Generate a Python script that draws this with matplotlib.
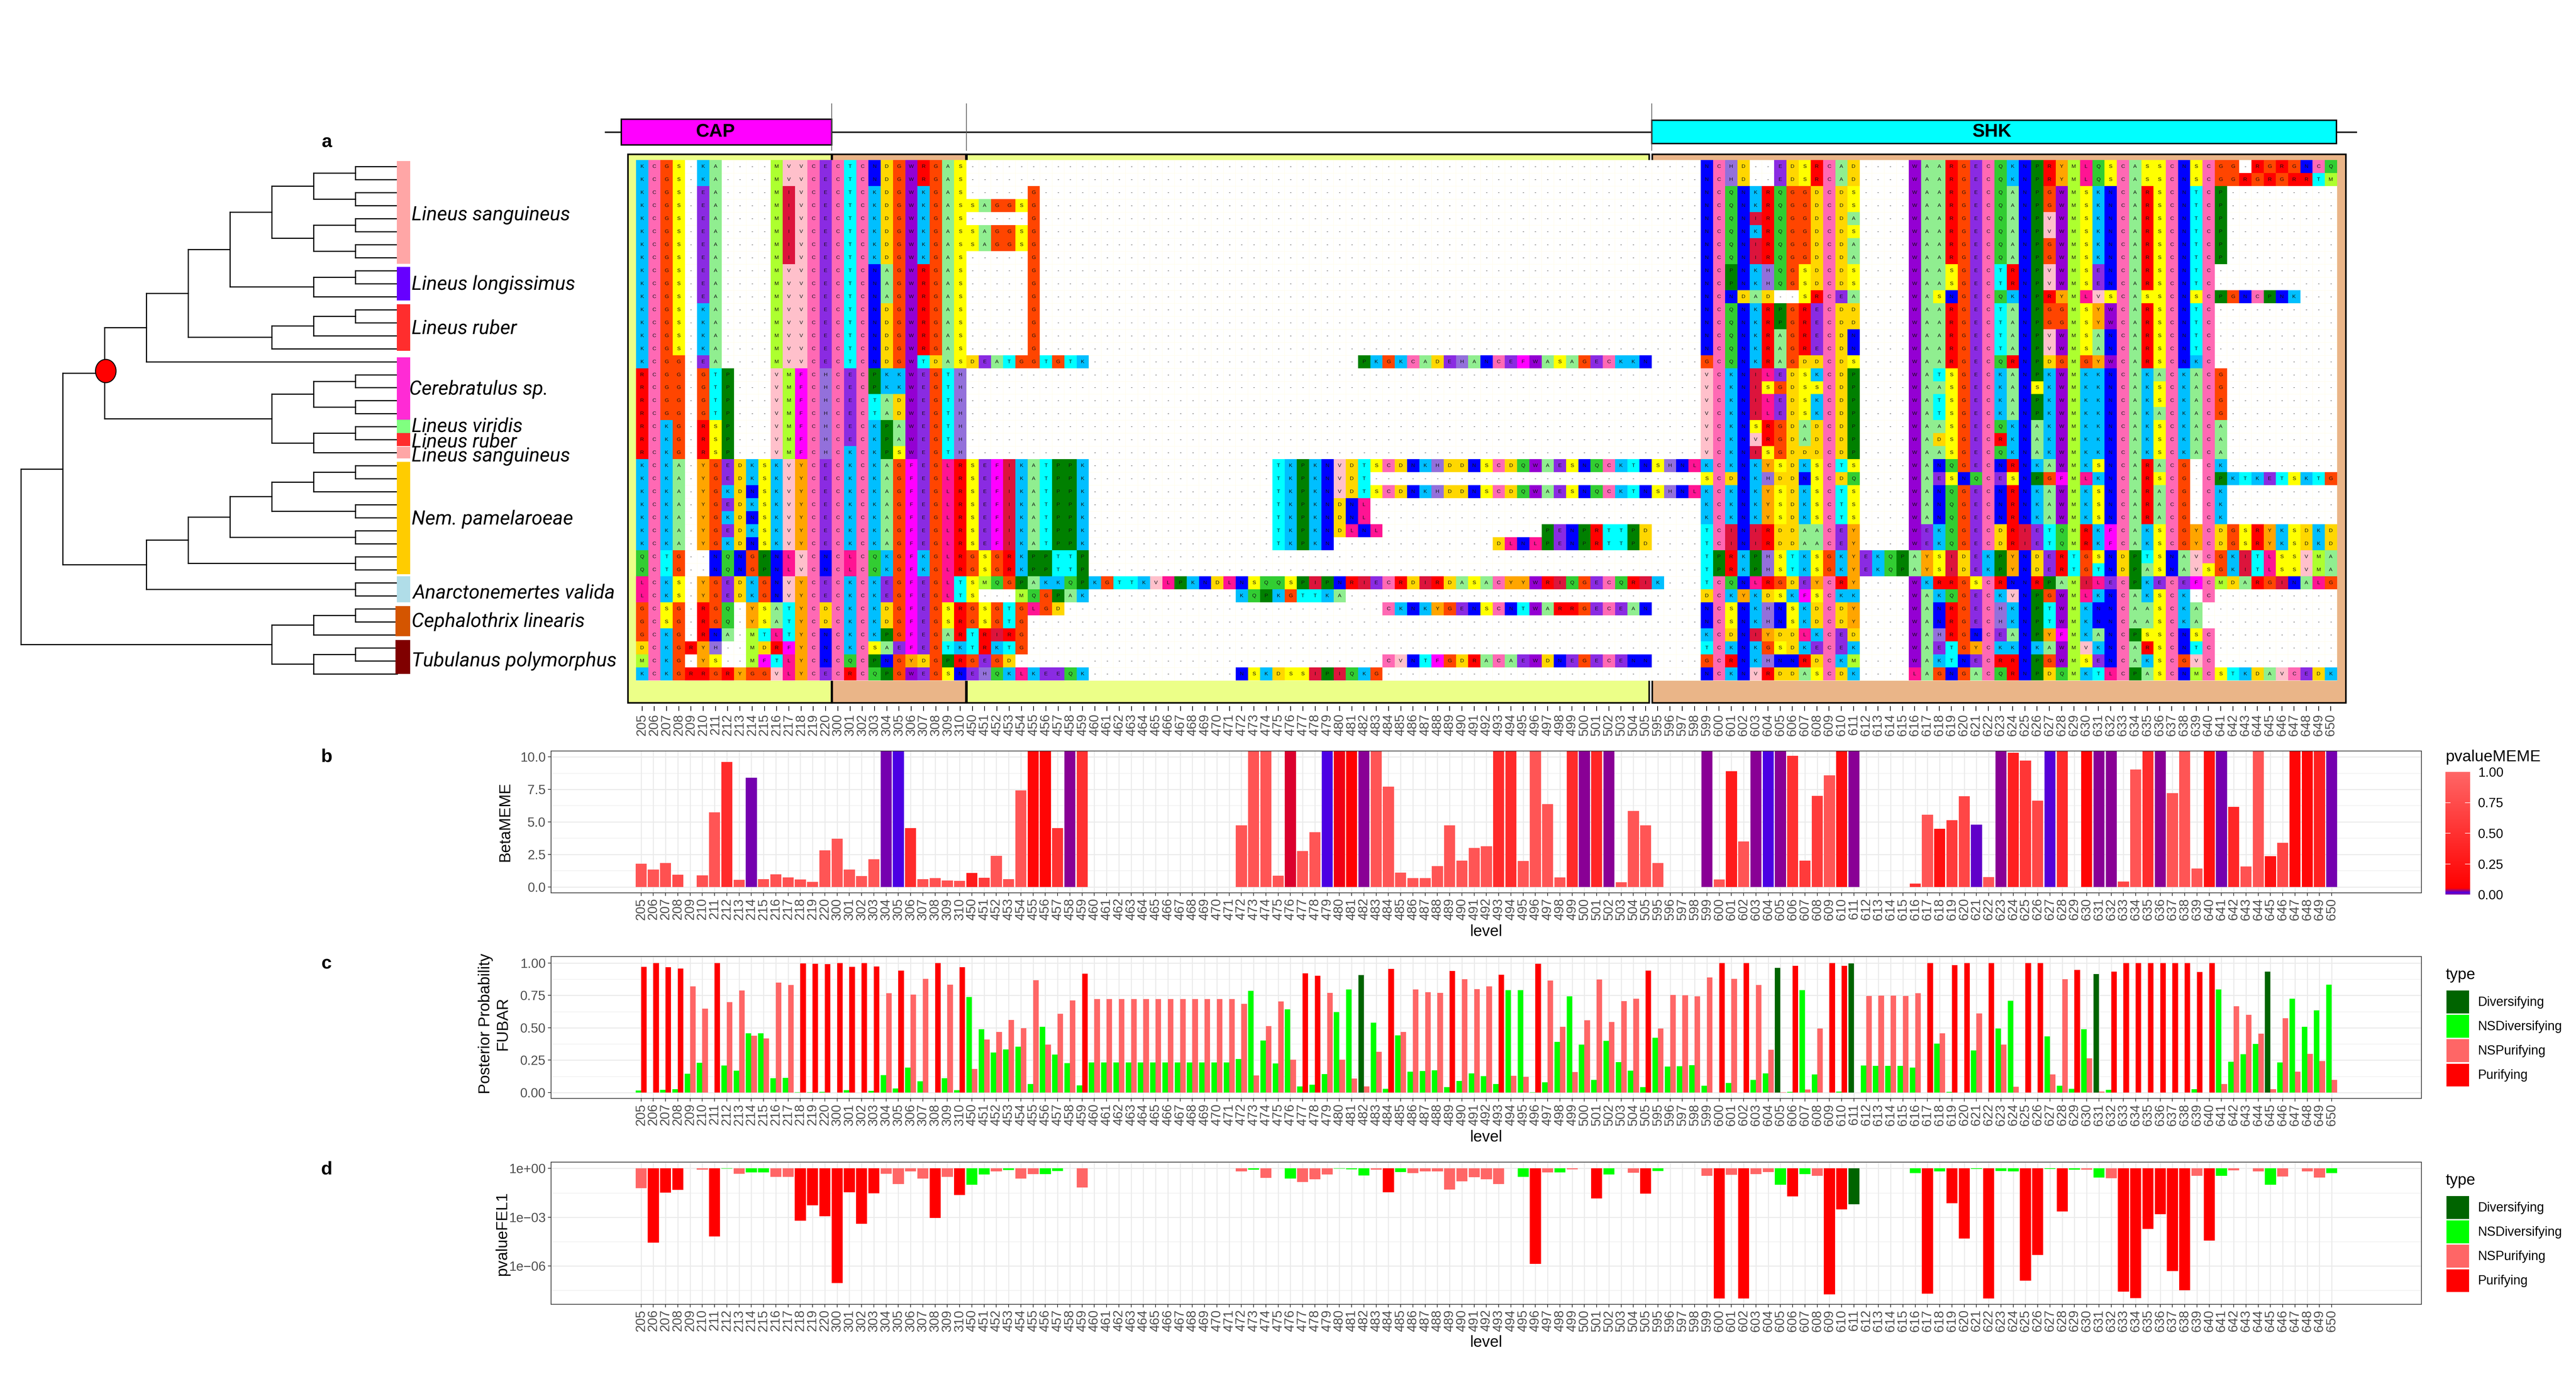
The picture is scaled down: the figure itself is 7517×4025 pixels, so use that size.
import matplotlib
matplotlib.use("Agg")
import matplotlib.pyplot as plt
from matplotlib.patches import Rectangle, Ellipse, Patch
from matplotlib.colors import LinearSegmentedColormap, to_rgba, Normalize
from matplotlib.cm import ScalarMappable
import numpy as np

W, H = 7517, 4025
plt.rcParams['font.family'] = ['Liberation Sans', 'DejaVu Sans']

# ---------------- sites
sites = list(range(205, 221)) + list(range(300, 311)) + list(range(450, 506)) + list(range(595, 651))

# ---------------- alignment, one block per site range
head = [
 "KCGS-KA----MVVCECTCNDGWRGAS","KCGS-KA----MVVCECTCNDGWRGAS","KCGS-EA----MIVCECTCKDGWKGAS","KCGS-EA----MIVCECTCKDGWKGAS",
 "KCGS-EA----MIVCECTCKDGWKGAS","KCGS-EA----MIVCECTCKDGWKGAS","KCGS-EA----MIVCECTCKDGWKGAS","KCGS-EA----MIVCECTCKDGWKGAS",
 "KCGS-EA----MVVCECTCNAGWRGAS","KCGS-EA----MVVCECTCNAGWRGAS","KCGS-EA----MVVCECTCNAGWRGAS","KCGS-KA----MVVCECTCNDGWRGAS",
 "KCGS-KA----MVVCECTCNDGWRGAS","KCGS-KA----MVVCECTCNDGWRGAS","KCGS-KA----MVVCECTCNDGWRGAS","KCGG-EA----MVVCECTCNDGWTDAS",
 "RCGG-GTP---VMFCHCECPKKWEGTH","RCGG-GTP---VMFCHCECPKKWEGTH","RCGG-GTP---VMFCHCECTADWEGTH","RCGG-GTP---VMFCHCECTADWEGTH",
 "RCKG-RSP---VMFCHCECKPAWEGTH","RCKG-RSP---VMFCHCECKPAWEGTH","RCKG-RSP---VMFCHCKCKPSWEGTH","KCKA-YGEDKSKVYCECKCKAGFEGLR",
 "KCKA-YGEDKSKVYCECKCKAGFEGLR","KCKA-YGKDNSKVYCECKCKAGFEGLR","KCKA-YGEDKSKVYCECKCKAGFEGLR","KCKA-YGKDNSKVYCECKCKAGFEGLR",
 "KCKA-YGEDKSKVYCECKCKAGFEGLR","KCKA-YGKDNSKVYCECKCKAGFEGLR","QCTG--NQNGPNLVCNCLCQKGFKGLR","QCTG--NQNGPNLVCNCLCQKGFKGLR",
 "LCKS-YGEDKGNVYCECKCKEGFEGLT","LCKS-YGEDKGNVYCECKCKEGFEGLT","GCSG-RGQ-YSATYCDCKCKDGFEGSR","GCSG-RGQ-YSATYCDCKCKDGFEGSR",
 "GCKG-RNA-MTLTYCNCKCKPGFEGAR","DCKGRYH--MDRFYCNCKCSAEFEGTK","MCKG-YS--MFTLYCNCQCPNGYDGPR","KCKGRRGRYGGVLYCECRCQPGWEGSN",
]
mid = [
 "","","-----G","SAGGSG","-----G","SAGGSG","SAGGSG","-----G","-----G","-----G","-----G","-----G","-----G","-----G","-----G",
 "DEATGGTGTK----------------------PKGKCADEHANCEFWASAGECKKN",
 "","","","","","","",
 "SEFIKATPPK---------------TKPKNVDTSCDNKHDDNSCDQWAESNQCKTN",
 "SEFIKATPPK---------------TKPKNVDT",
 "SEFIKATPPK---------------TKPKNVDTSCDNKHDDNSCDQWAESNQCKTN",
 "SEFIKATPPK---------------TKPKNDNL",
 "SEFIKATPPK---------------TKPKNDNL",
 "SEFIKATPPK---------------TKPKNDLNL-------------PENPRTTPD",
 "SEFIKATPPK---------------TKPKN-------------DLNLPENPRTTPD",
 "GSGRKPPTTP","GSGRKPPTTP",
 "SMQGPAKKQPKGTTKVLPKNDLNSQQSPIPNRIECRDIRDASACYYWRIQGECQRI",
 "S---MQGPAK------------KQPKGTTKA",
 "GSGTGLGD--------------------------CKNKYGENSCNTWARRGECEAN",
 "GSGTG",
 "TRIRG","TRKTG",
 "GEGD------------------------------CVNTFGDRACAEWDNEGECENN",
 "EHQKLKEEQK------------NSKDSSIPIQKG",
]
tail = [
 "----NCHD--EDSRCAD----WAARGECQKNPRYMLQSCASSCNSCGG-RGRGNCQ",
 "----NCHD--EDSRCAD----WAARGECQKNPRYMLQSCASSCNSCGGRGRGRRTM",
 "----NCQNKRQGGDCDS----WAARGECQANPGWMSKNCARSCNTCP",
 "----NCQNKRQGGDCDS----WAARGECQANPGWMSKNCARSCNTCP",
 "----NCQNIRQGGDCDA----WAARGECQANPVWMSKNCARSCNTCP",
 "----NCQNKRQGGDCDS----WAARGECQANPVWMSKNCARSCNTCP",
 "----NCQNIRQGGDCDA----WAARGECQANPGWMSKNCARSCNTCP",
 "----NCQNIRQGGDCDA----WAARGECQANPGWMSKNCARSCNTCP",
 "----NCPNKHQGSDCDS----WAASGECTRNPVWMSENCARSCNTC",
 "----NCPNKHQGSDCDS----WAASGECTRNPVWMSENCARSCNTC",
 "----NCNDAD--SRCEA----WASNGECQKNPRYMLVSCASSCNSCPGNCPNK",
 "----NCQNKRPGRECDD----WAARGECTANPGGMSYWCARSCNTC",
 "----NCQNKRPGRECDD----WAARGECTANPGGMSYWCARSCNTC",
 "----NCQNKRAGRECDN----WAARGECTANPVWMSANCARSCNTC",
 "----NCQNKRAGRECDN----WAARGECTANPVWMSANCARSCNTC",
 "----GCQNKRAGDDCDS----WAARGECQRNPDGMGYWCARSCNKC",
 "----VCKNILEDSKCDP----WATSGECKANPKWMKKNCAKACKACG",
 "----VCKNISGDSSCDP----WAASGECKANSKWMKKNCAKSCKACG",
 "----VCKNILEDSKCDP----WATSGECKANPKWMKKNCAKSCKACG",
 "----VCKNILEDSKCDP----WATSGECKANPKWMKKNCAKACKACG",
 "----VCKNSRGDADCDP----WAASGECQKNAKWMKKNCAKSCKACA",
 "----VCKNVRGDADCDP----WADSGECRKNAKWMKKNCAKSCKACA",
 "----VCKNISGDDDCDP----WAASGECQKNAKWMKKNCAKSCKACA",
 "SHNLKCKNKYSDKSCTS----WANQGECNRNKAWMKSNCARACG-CK",
 "----SCDNKHDDNSCDQ----WAESNQCESNPGFMLKNCARSCG-CPKTKETSKTG",
 "SHNLKCKNKYSDKSCTS----WANQGECNRNKAWMKSNCARACG-CK",
 "----KCKNKYSDKSCTS----WANQGECNRNKAWMKSNCARACG-CK",
 "----KCKNKYSDKSCTS----WANQGECNRNKAWMKSNCARACG-CK",
 "----TCINIRDDAACEY----WEKQGECDRIETQMRKFCAKSCGYCDGSRYKSDKD",
 "----TCINIRDDAACEY----WEKQGECDRIETQMRKFCAKSCGYCDGSRYKSDKD",
 "----TPRKPHSTKSGKYEKQPAYSIDEKPYNDERTGSNDPTSNAVCGKITLSSVMA",
 "----TPRKPHSTKSGKYEKQPAYSIDEKPYNDERTGTNDPASNAVSGKITLSSVMA",
 "K---TCQNLRGDEYCRY----WKRRGSCRNNRPAMILECPKECEFCMDARGINALG",
 "----DCKYKDSKFSCKK----WAKQGECKVNPGWMLKNCAKSCK-C",
 "----NCSNKHNSKDCDY----WANRGECHKNPTWMKNNCAASCKA",
 "----NCSNKHNSKDCDY----WANRGECHKNPTWMKNNCAASCKA",
 "----KCDNIYDDLKCED----WAHRGNCEANPYFMKANCPSSCNSC",
 "----TCKNKGSDKECEK----WAETGYCKKNKAWMVKNCARSCNTC",
 "----GCRNKHNNRDCKM----WAKTNECRRNPGWMSENCAKSCGVC",
 "----NCKNVRDDASCDK----LAGNGACQRNPDQMKTLCPASCNMCSTKDAVCEDK",
]
aa_colors = {'K':'#00BFFF','C':'#FF69B4','G':'#FF4500','S':'#FFFF00','E':'#8A2BE2','A':'#90EE90','M':'#ADFF2F',
             'V':'#FFC0CB','I':'#DC143C','T':'#00FFFF','N':'#0000FF','D':'#FFD700','W':'#9400D3','R':'#FF0000',
             'P':'#008000','Q':'#32CD32','H':'#9370DB','F':'#FF00FF','Y':'#FFA500','L':'#FF1493'}

# ---------------- tree: (level, children); integers are tips
tree = (0, [
  (1, [
    (2, [
      (3, [
        (4, [
          (5, [
            (6, [
              (7, [(8, [0, 1]), (8, [2, 3])]),
              (7, [(8, [4, 5]), (8, [6, 7])]),
            ]),
            (7, [(8, [8, 9]), 10]),
          ]),
          (6, [(7, [(8, [11, 12]), 13]), 14]),
        ]),
        15,
      ]),
      (6, [
        (7, [(8, [16, 17]), (8, [18, 19])]),
        (7, [(8, [20, 21]), 22]),
      ]),
    ]),
    (3, [
      (4, [
        (5, [
          (6, [(7, [(8, [23, 24]), 25]), (8, [26, 27])]),
          (8, [28, 29]),
        ]),
        (8, [30, 31]),
      ]),
      (8, [32, 33]),
    ]),
  ]),
  (6, [
    (7, [(8, [34, 35]), 36]),
    (7, [(8, [37, 38]), 39]),
  ]),
])
clade_names = ['Lineus sanguineus','Lineus longissimus','Lineus ruber','Cerebratulus sp.','Lineus viridis','Lineus ruber',
               'Lineus sanguineus','Nem. pamelaroeae','Anarctonemertes valida','Cephalothrix linearis','Tubulanus polymorphus']
clade_start = [-0.42,7.71,10.6,14.66,19.47,20.5,21.55,22.7,31.5,33.8,36.4]
clade_end   = [7.47,10.3,14.17,19.45,20.5,21.5,22.45,31.35,33.5,36.1,39.0]
clade_color = ['#FFA6A6','#6600FF','#FF2D2D','#FF2BD5','#80FF80','#FF2D2D','#FFA6A6','#FFCC00','#B0DDE8','#D45500','#800000']
clade_label_row = [3.76,9.07,12.45,17.13,20.0,21.17,22.3,27.11,32.78,34.99,38.0]
clade_label_dx = [0,0,0,-0.06,0,0,0,0,0.03,0,0]

# ---------------- panel b
meme_beta = [1.79,1.33,1.82,.94,0,.88,5.73,9.6,.55,8.39,.6,.97,.73,.58,.39,2.82,
 3.7,1.33,.82,2.12,12,12,4.52,.6,.67,.48,.45,
 1.06,.7,2.39,.6,7.42,12,12,4.52,12,12,0,0,0,0,0,0,0,0,0,0,0,0,4.73,12,12,.85,12,2.76,4.2,12,12,12,12,12,7.7,1.09,.67,.67,1.6,4.73,2.03,3.0,3.12,12,12,2.0,12,6.36,.73,12,12,12,12,.36,5.85,4.73,
 1.82,0,0,0,12,.58,8.9,3.48,12,12,12,10.09,2.03,7.0,8.58,12,12,0,0,0,0,.24,5.55,4.48,5.12,6.97,4.79,.76,12,10.33,9.7,6.64,12,12,0,12,12,12,.42,9.03,12,12,7.21,12,1.42,12,12,6.15,1.58,12,2.36,3.39,12,12,12,12]
meme_p = [.84,.84,.8,.75,1,.8,.84,.45,.8,.027,.8,.8,.8,.8,.8,.84,
 .84,.84,.84,.84,.025,.018,.45,.8,.8,.8,.8,
 .3,.6,.84,.8,.84,.12,.1,.5,.03,.5,1,1,1,1,1,1,1,1,1,1,1,1,.84,.84,.84,.84,.045,.84,.84,.018,.05,.07,.03,.84,.84,.84,.84,.84,.84,.84,.84,.84,.84,.45,.45,.84,.84,.84,.84,.45,.03,.4,.03,.84,.84,.84,
 .84,1,1,1,.03,.84,.3,.84,.03,.018,.03,.5,.6,.6,.84,.2,.03,1,1,1,1,.5,.84,.2,.6,.7,.022,.84,.03,.35,.55,.7,.012,.45,1,.1,.03,.028,.7,.84,.45,.03,.84,.84,.84,.2,.025,.4,.8,.84,.2,.7,.1,.12,.35,.024]

# ---------------- panel c
fubar_div = [.015,0,.02,.027,.145,.23,0,.21,.17,.458,.458,.112,.115,.003,.003,.004,
 0,.018,0,.012,.136,.033,.194,.088,0,.112,.018,
 .739,.488,.309,.333,.355,.067,.509,.294,.227,.055,.233,.233,.233,.233,.233,.233,.233,.233,.233,.233,.233,.233,
 .258,.785,.403,.224,.642,.048,.061,.142,.621,.797,.906,.539,.03,.442,.161,.167,.173,.042,.091,.148,.127,.067,.791,.791,.003,.079,.391,.742,.37,.097,.4,.236,.17,.042,
 .424,.2,.203,.212,.052,0,.073,0,.097,.148,.964,.006,.791,.14,0,.009,.997,.209,.206,.206,.206,.194,0,.379,.006,0,.324,0,.494,.709,0,0,.433,.052,.03,.488,.915,.021,0,0,0,0,0,0,.027,0,.797,.239,.297,.376,.933,.233,.724,.509,.636,.833]
fubar_pur = [.97,1.0,.967,.958,.82,.648,1.0,.697,.788,.44,.418,.848,.83,.997,.994,.993,
 .999,.97,1.0,.973,.767,.942,.757,.879,1.0,.833,.967,
 .182,.409,.467,.56,.497,.867,.37,.609,.712,.918,.721,.721,.721,.721,.721,.721,.721,.721,.721,.721,.721,.721,
 .685,.133,.512,.703,.255,.921,.903,.77,.255,.109,.048,.315,.955,.467,.797,.776,.77,.939,.876,.8,.821,.909,.13,.121,.994,.864,.509,.158,.558,.873,.545,.706,.724,.942,
 .494,.755,.752,.742,.888,1.0,.879,1.0,.83,.33,.003,.979,.024,.494,1.0,.979,0,.745,.748,.748,.745,.767,1.0,.458,.985,1.0,.612,1.0,.37,.045,1.0,1.0,.139,.876,.948,.264,.009,.933,1.0,1.0,1.0,1.0,1.0,1.0,.93,1.0,.067,.667,.6,.455,.027,.573,.161,.3,.242,.097]
fubar_pur_types = ("PPPPNNPNNNNNNPPP" + "PPPPNPNNPNP"
 + "NNNNNNNNNP" + "NNNNNNNNNNNN" + "NNNNN" + "PP" + "NNNNN" + "P" + "NNNN" + "P" + "NNN" + "P" + "NN" + "P" + "NNNNNNNN" + "P"
 + "NNNNN" + "P" + "N" + "P" + "NNN" + "P" + "NN" + "PP" + "N" + "NNNNN" + "P" + "N" + "PP" + "N" + "P" + "NN" + "PP" + "NN" + "P" + "NN" + "P" + "PPPPPP" + "PP" + "NNNNNNNNNN")
fubar_dark_sites = [482, 605, 611, 631, 645]

# ---------------- panel d (-log10 p)
fel_depth = [1.21,4.57,1.48,1.31,0,.07,4.2,.02,.32,.24,.24,.51,.51,3.23,2.26,2.94,
 7.07,1.46,3.42,1.53,.32,.97,.17,.63,3.06,.51,1.63,
 1.0,.36,.17,.1,.63,.34,.34,.15,0,1.17,0,0,0,0,0,0,0,0,0,0,0,0,
 .17,.07,.58,0,.63,.83,.66,.36,.02,.05,.44,.07,1.46,.22,.29,.19,.19,1.29,.8,.53,.66,.97,0,.51,5.88,.24,.24,.05,0,1.85,.36,0,.27,1.55,
 .15,0,0,0,.46,8.02,.39,8.02,.34,.22,1.0,1.72,.34,.46,7.75,2.53,2.21,0,0,0,0,.29,7.72,.17,2.14,4.32,.03,8.02,.15,.17,6.92,5.32,.03,2.65,.07,.07,.56,.61,7.58,7.99,3.72,2.82,6.32,7.51,.46,4.44,.46,.12,0,.17,1.0,.49,0,.19,.56,.29]
fel_types = ("NPPP.NPGNGGNNPPP" + "PPPPNNNNPNP"
 + "GGNGNNGG.N" + "............" + "NGN.GNNNGGGNPG" + "NNNNNNNN" + ".GPNGN.PG.NP"
 + "G...NPNPNNGPGNPPD....GPGPPGPGGPPGPGNGNPPPPPPNPGN.NGN.NNG")
type_names = ['Diversifying','NSDiversifying','NSPurifying','Purifying']
type_colors = {'D':'#006400','G':'#00FF00','N':'#FF6666','P':'#FF0000','.':'#FFFFFF'}

assert len(sites) == 139
for arr in (meme_beta, meme_p, fubar_div, fubar_pur, fubar_pur_types, fel_depth, fel_types):
    assert len(arr) == 139, len(arr)
assert len(head) == 40 and len(mid) == 40 and len(tail) == 40

alignment = []
for r in range(40):
    assert len(head[r]) == 27, r
    assert len(mid[r]) <= 56 and len(tail[r]) <= 56, r
    alignment.append(head[r] + mid[r].ljust(56, '-') + tail[r].ljust(56, '-'))

# ---------------- layout helpers
fig = plt.figure(figsize=(W / 300, H / 300), dpi=300, facecolor='white')

def px_axes(x0, y0, x1, y1, **kw):
    return fig.add_axes([x0 / W, 1 - y1 / H, (x1 - x0) / W, (y1 - y0) / H], **kw)

X0, DX = 1873.5, 35.71      # column 0 centre and pitch in the top panel
Y0, DY = 486.0, 37.97       # row 0 centre and pitch
colx = lambda p: (p - X0) / DX
rowy = lambda p: (p - Y0) / DY
TXT = '#4D4D4D'
n_col = len(sites)
XTICK_FS = 9.2

# ---------------- domain track
ax_dom = px_axes(1760, 300, 6885, 450)
ax_dom.set_xlim(colx(1760), colx(6885)); ax_dom.set_ylim(150, 0); ax_dom.axis('off')
ax_dom.plot([colx(1767), colx(6876)], [86, 86], color='black', lw=1.0, zorder=1)
ax_dom.add_patch(Rectangle((colx(1813), 48), 15.5 - colx(1813), 75, fc='#FF00FF', ec='black', lw=1.0, zorder=2))
ax_dom.add_patch(Rectangle((82.5, 51), 138.46 - 82.5, 68, fc='#00FFFF', ec='black', lw=1.0, zorder=2))
ax_dom.text(6.0, 86, 'CAP', ha='center', va='center', fontsize=13, weight='bold', zorder=3)
ax_dom.text(110.3, 86, 'SHK', ha='center', va='center', fontsize=13, weight='bold', zorder=3)
for b in (15.5, 26.5, 82.5):
    ax_dom.plot([b, b], [3, 150], color='#606060', lw=0.55, zorder=3)

# ---------------- alignment panel
ax_a = px_axes(1825, 440, 6852, 2061)
ax_a.set_xlim(colx(1825), colx(6852)); ax_a.set_ylim(rowy(2061), rowy(440))
for s in ax_a.spines.values():
    s.set_visible(False)
top_r, bot_r = rowy(450), rowy(2051)
regions = [(colx(1832), 15.46, '#ECFF88'), (15.54, 26.46, '#EAB588'), (26.54, 82.3, '#ECFF88'), (82.55, colx(6845), '#EAB588')]
for a, b, c in regions:
    ax_a.add_patch(Rectangle((a, top_r), b - a, bot_r - top_r, fc=c, ec='black', lw=1.1, zorder=0))
ax_a.add_patch(Rectangle((-0.5, -0.5), n_col, 40, fc='white', ec='none', zorder=1))
for i in range(n_col + 1):
    ax_a.plot([i - .5, i - .5], [-.5, 39.5], color='#FFFDE6', lw=0.25, zorder=1.5)
for r in range(41):
    ax_a.plot([-.5, n_col - .5], [r - .5, r - .5], color='#FFFDE6', lw=0.25, zorder=1.5)
rgba = np.zeros((40, n_col, 4))
for r, row in enumerate(alignment):
    for c, ch in enumerate(row):
        if ch != '-':
            rgba[r, c] = to_rgba(aa_colors[ch])
ax_a.imshow(rgba, extent=(-.5, n_col - .5, 39.5, -.5), aspect='auto', interpolation='nearest', zorder=2)
ax_a.set_xlim(colx(1825), colx(6852)); ax_a.set_ylim(rowy(2061), rowy(440))
for r, row in enumerate(alignment):
    for c, ch in enumerate(row):
        ax_a.text(c, r, ch, ha='center', va='center', fontsize=3.7, color='#101010', zorder=3)
ax_a.set_yticks([])
ax_a.set_xticks(range(n_col))
ax_a.set_xticklabels(sites, rotation=90, fontsize=XTICK_FS, color=TXT)
ax_a.tick_params(axis='x', length=3.4, width=0.5, pad=2.2, color='black')

# ---------------- tree
ax_t = px_axes(0, 440, 1800, 2061)
LX0, LDX = 61.0, 122.0
ax_t.set_xlim((0 - LX0) / LDX, (1800 - LX0) / LDX)
ax_t.set_ylim(rowy(2061), rowy(440)); ax_t.axis('off')

def draw(node):
    if isinstance(node, int):
        return 9, node
    lev, kids = node
    pos = [draw(k) for k in kids]
    ys = [p[1] for p in pos]
    y = sum(ys) / len(ys)
    ax_t.plot([lev, lev], [min(ys), max(ys)], color='black', lw=0.8, solid_capstyle='projecting', zorder=2)
    for kl, ky in pos:
        ax_t.plot([lev, kl], [ky, ky], color='black', lw=0.8, solid_capstyle='projecting', zorder=2)
    return lev, y

draw(tree)
ax_t.add_patch(Ellipse((2.03, rowy(1083)), 60 / LDX, 68 / DY, fc='#FF0000', ec='black', lw=0.7, zorder=3))
for i, (nm, a, b, c) in enumerate(zip(clade_names, clade_start, clade_end, clade_color)):
    left = 8.99 if i < 9 else 8.96
    ax_t.add_patch(Rectangle((left, a), 9.31 - left, b - a, fc=c, ec='none', zorder=3))
    ax_t.text(9.345 + clade_label_dx[i], clade_label_row[i], nm, family=['Roboto', 'DejaVu Sans'], style='italic',
              fontsize=13.8, ha='left', va='center', color='black', zorder=4)

# ---------------- panel letters
for lab, px, py in [('a', 953, 415), ('b', 953, 2210), ('c', 953, 2814), ('d', 953, 3413)]:
    fig.text(px / W, 1 - py / H, lab, fontsize=13, weight='bold', ha='center', va='center')

# ---------------- bar panels
BX0, BDX = 1870.7, 35.75
def bar_axes(y0, y1):
    ax = px_axes(1608, y0, 7066, y1)
    ax.set_xlim((1608 - BX0) / BDX, (7066 - BX0) / BDX)
    ax.set_axisbelow(True)
    ax.grid(True, which='major', color='#EBEBEB', lw=0.75)
    ax.grid(True, which='minor', axis='y', color='#EBEBEB', lw=0.35)
    ax.set_xticks(range(n_col))
    ax.set_xticklabels(sites, rotation=90, fontsize=XTICK_FS, color=TXT)
    ax.tick_params(axis='both', which='major', length=2.2, width=0.5, pad=1.6, color='#333333', labelcolor=TXT)
    ax.tick_params(axis='y', which='minor', length=0)
    ax.tick_params(axis='y', labelsize=9.2)
    for s in ax.spines.values():
        s.set_color('#333333'); s.set_linewidth(0.5)
    return ax

def xlabel_at(py):
    fig.text(4337 / W, 1 - py / H, 'level', fontsize=11, ha='center', va='center')

idx = np.arange(n_col)

# b
meme_cmap = LinearSegmentedColormap.from_list('meme', [(0, '#8800A0'), (.015, '#4800E8'), (.05, '#FF0000'), (1, '#FF6666')])
ax_b = bar_axes(2192, 2606)
ax_b.bar(idx, meme_beta, width=.9, color=meme_cmap(np.array(meme_p)), zorder=2)
ax_b.set_ylim(-0.46, 10.45)
ax_b.set_yticks([0, 2.5, 5, 7.5, 10]); ax_b.set_yticklabels(['0.0', '2.5', '5.0', '7.5', '10.0'])
ax_b.set_yticks([1.25, 3.75, 6.25, 8.75], minor=True)
fig.text(1474 / W, 1 - 2399 / H, 'BetaMEME', rotation=90, fontsize=11, ha='center', va='center')
xlabel_at(2720)

# c
ax_c = bar_axes(2792, 3206)
div_cols = [type_colors['D'] if s in fubar_dark_sites else type_colors['G'] for s in sites]
pur_cols = [type_colors[t] for t in fubar_pur_types]
ax_c.bar(idx - .225, fubar_div, width=.45, color=div_cols, zorder=2)
ax_c.bar(idx + .225, fubar_pur, width=.45, color=pur_cols, zorder=2)
ax_c.set_ylim(-0.045, 1.05)
ax_c.set_yticks([0, .25, .5, .75, 1]); ax_c.set_yticklabels(['0.00', '0.25', '0.50', '0.75', '1.00'])
ax_c.set_yticks([.125, .375, .625, .875], minor=True)
fig.text(1442 / W, 1 - 2988 / H, 'Posterior Probability\nFUBAR', rotation=90, fontsize=11, ha='center', va='center',
         linespacing=1.2, multialignment='center')
xlabel_at(3320)

# d
ax_d = bar_axes(3392, 3807)
ax_d.set_yscale('log')
pvals = 10.0 ** (-np.array(fel_depth))
ax_d.bar(idx, pvals - 1, bottom=1, width=.9, color=[type_colors[t] for t in fel_types], zorder=2)
ax_d.set_ylim(10 ** -8.37, 10 ** 0.39)
ax_d.set_yticks([1, 1e-3, 1e-6]); ax_d.set_yticklabels(['1e+00', '1e\u221203', '1e\u221206'])
ax_d.set_yticks([10 ** -1.5, 10 ** -4.5, 10 ** -7.5], minor=True); ax_d.set_yticklabels([], minor=True)
fig.text(1466 / W, 1 - 3602 / H, 'pvalueFEL1', rotation=90, fontsize=11, ha='center', va='center')
xlabel_at(3919)

# ---------------- legends
cax = px_axes(7136, 2253, 7208, 2611)
cb = fig.colorbar(ScalarMappable(Normalize(0, 1), meme_cmap), cax=cax)
cb.outline.set_visible(False)
cb.set_ticks([0, .25, .5, .75, 1]); cb.set_ticklabels(['0.00', '0.25', '0.50', '0.75', '1.00'])
cax.tick_params(axis='y', length=0, pad=5.5, labelsize=9.2)
for t in (.25, .5, .75):
    cax.plot([0, .2], [t, t], color='white', lw=.4, transform=cax.get_yaxis_transform())
    cax.plot([.8, 1], [t, t], color='white', lw=.4, transform=cax.get_yaxis_transform())
fig.text(7136 / W, 1 - 2210 / H, 'pvalueMEME', fontsize=11.2, ha='left', va='center')

handles = [Patch(fc=type_colors[k], ec='none', label=n) for k, n in zip('DGNP', type_names)]
for ax, ty in ((ax_c, 2824), (ax_d, 3424)):
    leg = ax.legend(handles=handles, title='type', loc='upper left', bbox_to_anchor=(7139 / W, 1 - ty / H),
                    bbox_transform=fig.transFigure, frameon=False, borderaxespad=0, borderpad=0,
                    fontsize=9.0, title_fontsize=11, handlelength=1.76, handleheight=2.36,
                    labelspacing=0.12, handletextpad=0.7, alignment='left')
    leg.get_title().set_position((-3, 0))
    leg._legend_box.sep = 5.5

fig.savefig('out.png', dpi=300)
